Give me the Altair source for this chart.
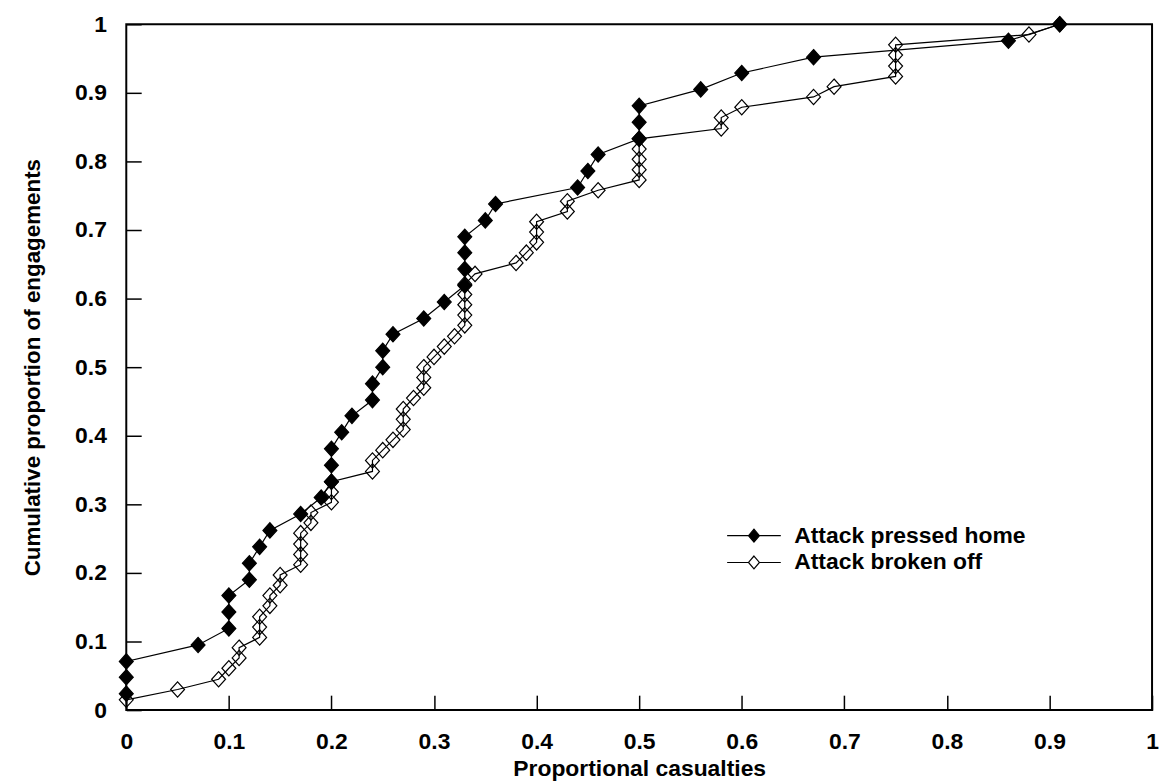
import altair as alt
import pandas as pd

# ---- data (cumulative distributions) ----
pressed_x = [0.00, 0.00, 0.00, 0.07, 0.10, 0.10, 0.10, 0.12, 0.12, 0.13, 0.14, 0.17, 0.19, 0.20,
             0.20, 0.20, 0.21, 0.22, 0.24, 0.24, 0.25, 0.25, 0.26, 0.29, 0.31, 0.33, 0.33, 0.33,
             0.33, 0.35, 0.36, 0.44, 0.45, 0.46, 0.50, 0.50, 0.50, 0.56, 0.60, 0.67, 0.86, 0.91]
pressed_y = [0.024, 0.048, 0.071, 0.095, 0.119, 0.143, 0.167, 0.190, 0.214, 0.238, 0.262, 0.286,
             0.310, 0.333, 0.357, 0.381, 0.405, 0.429, 0.452, 0.476, 0.500, 0.524, 0.548, 0.571,
             0.595, 0.619, 0.643, 0.667, 0.690, 0.714, 0.738, 0.762, 0.786, 0.810, 0.833, 0.857,
             0.881, 0.905, 0.929, 0.952, 0.976, 1.000]

broken_x = [0.00, 0.05, 0.09, 0.10, 0.11, 0.11, 0.13, 0.13, 0.13, 0.14, 0.14, 0.15, 0.15, 0.17,
            0.17, 0.17, 0.17, 0.18, 0.18, 0.20, 0.20, 0.20, 0.24, 0.24, 0.25, 0.26, 0.27, 0.27,
            0.27, 0.28, 0.29, 0.29, 0.29, 0.30, 0.31, 0.32, 0.33, 0.33, 0.33, 0.33, 0.33, 0.34,
            0.38, 0.39, 0.40, 0.40, 0.40, 0.43, 0.43, 0.46, 0.50, 0.50, 0.50, 0.50, 0.50, 0.58,
            0.58, 0.60, 0.67, 0.69, 0.75, 0.75, 0.75, 0.75, 0.88, 0.91]
broken_y = [0.015, 0.030, 0.045, 0.061, 0.076, 0.091, 0.106, 0.121, 0.136, 0.152, 0.167, 0.182,
            0.197, 0.212, 0.227, 0.242, 0.258, 0.273, 0.288, 0.303, 0.318, 0.333, 0.348, 0.364,
            0.379, 0.394, 0.409, 0.424, 0.439, 0.455, 0.470, 0.485, 0.500, 0.515, 0.530, 0.545,
            0.561, 0.576, 0.591, 0.606, 0.621, 0.636, 0.652, 0.667, 0.682, 0.697, 0.712, 0.727,
            0.742, 0.758, 0.773, 0.788, 0.803, 0.818, 0.833, 0.848, 0.864, 0.879, 0.894, 0.909,
            0.924, 0.939, 0.955, 0.970, 0.985, 1.000]

series_names = ["Attack pressed home", "Attack broken off"]
tick_values = [0, 0.1, 0.2, 0.3, 0.4, 0.5, 0.6, 0.7, 0.8, 0.9, 1]

rows = []
for i, (x, y) in enumerate(zip(broken_x, broken_y)):
    rows.append({"series": series_names[1], "x": x, "y": y, "k": i})
for i, (x, y) in enumerate(zip(pressed_x, pressed_y)):
    rows.append({"series": series_names[0], "x": x, "y": y, "k": i})
df = pd.DataFrame(rows)

FONT = "Liberation Sans"
FS = 23
DIAMOND = "M0,-1.1L1,0L0,1.1L-1,0Z"
# legend glyph: line with a diamond in the middle (unit = 10px at symbolSize 400)
LEGEND_SYMBOL = "M-2.7,0H-0.55M0.55,0H2.7M0,-0.65L0.55,0L0,0.65L-0.55,0Z"

x_enc = alt.X("x:Q", scale=alt.Scale(domain=[0, 1], nice=False, zero=True),
              axis=alt.Axis(values=tick_values, format="~g", tickSize=15, offset=-15,
                            domain=False, grid=False, labelFlush=False, labelOverlap=False,
                            labelFont=FONT, labelFontSize=FS, labelFontWeight="bold",
                            labelColor="black", labelPadding=21, tickColor="black", tickWidth=1.5,
                            title="Proportional casualties", titleFont=FONT, titleFontSize=FS,
                            titleFontWeight="bold", titleColor="black", titlePadding=4))
y_enc = alt.Y("y:Q", scale=alt.Scale(domain=[0, 1], nice=False, zero=True),
              axis=alt.Axis(values=tick_values, format="~g", tickSize=15, offset=-15,
                            domain=False, grid=False, labelOverlap=False, labelFlush=False,
                            labelFont=FONT, labelFontSize=FS, labelFontWeight="bold",
                            labelColor="black", labelPadding=20, tickColor="black", tickWidth=1.5,
                            title="Cumulative proportion of engagements", titleFont=FONT,
                            titleFontSize=22.5, titleFontWeight="bold", titleColor="black",
                            titlePadding=30))

base = alt.Chart(df)

lines = base.mark_line(color="black", strokeWidth=1.2).encode(
    x=x_enc, y=y_enc, detail="series:N", order="k:Q")

points = base.mark_point(shape=DIAMOND, size=196, filled=True, stroke="black",
                         strokeWidth=1.2, opacity=1).encode(
    x="x:Q", y="y:Q",
    fill=alt.Fill("series:N",
                  scale=alt.Scale(domain=series_names, range=["black", "transparent"]),
                  legend=alt.Legend(title=None, orient="none", legendX=620, legendY=503,
                                    padding=0, symbolType=LEGEND_SYMBOL, symbolSize=400,
                                    symbolStrokeColor="black", symbolStrokeWidth=1.2,
                                    labelFont=FONT, labelFontSize=FS, labelFontWeight="bold",
                                    labelColor="black", labelOffset=29, rowPadding=3,
                                    labelLimit=400)))

chart = alt.layer(lines, points).properties(
    width=1032, height=690,
    autosize=alt.AutoSizeParams(type="none"),
    padding={"left": 119, "top": 14, "right": 8, "bottom": 71},
    background="white",
).configure_view(stroke="black", strokeWidth=2)

chart.save("out.html", embed_options={"renderer": "svg", "actions": False})
